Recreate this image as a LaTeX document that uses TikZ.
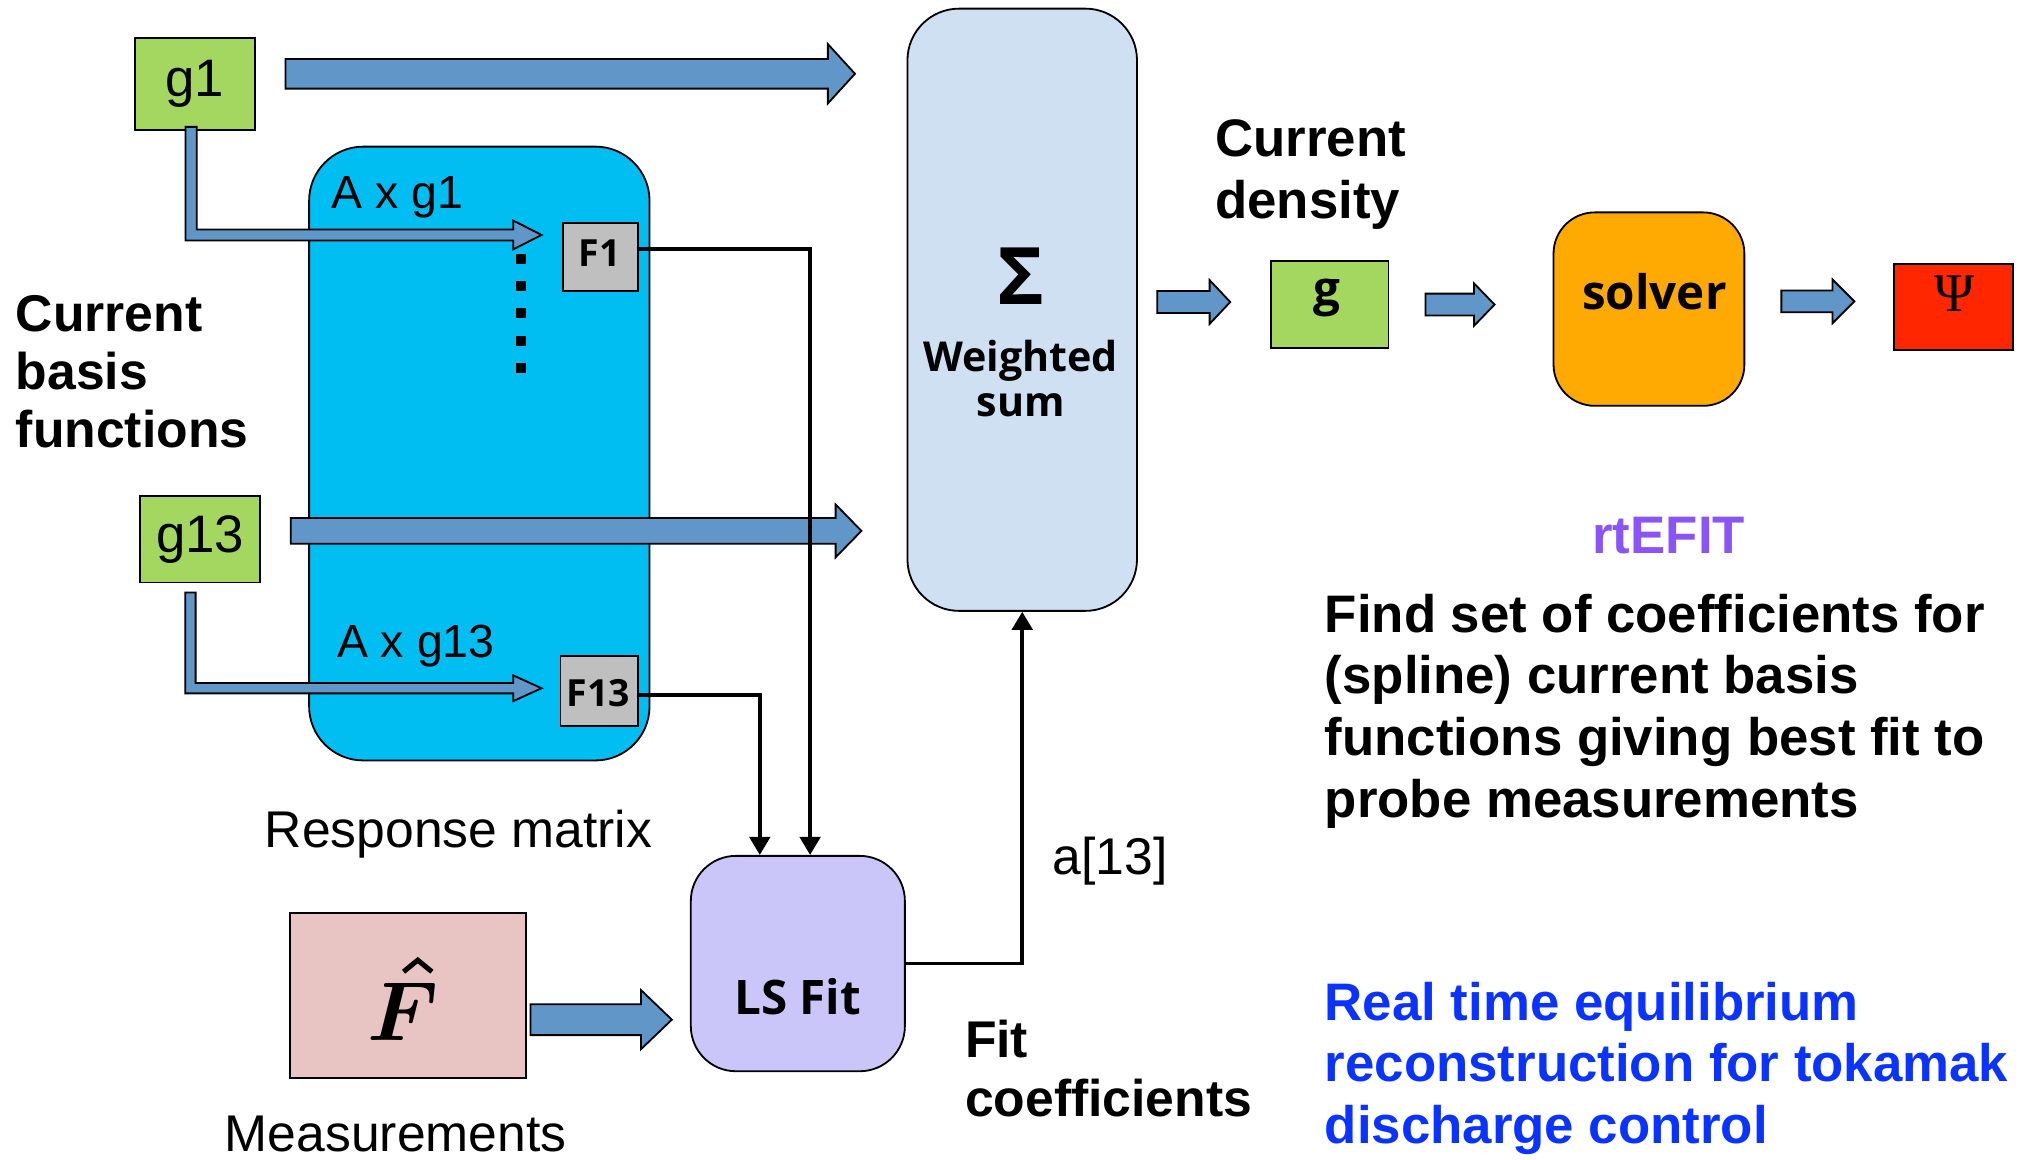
\RequirePackage{fix-cm}
\documentclass[tikz,border=0pt]{standalone}
\usepackage{amsmath,bm}
\usepackage{fontspec}
\setmainfont{Liberation Sans}
\newfontfamily\opensans{Open Sans}
\newfontfamily\timesf{Liberation Serif}
\usetikzlibrary{arrows.meta,calc}

\definecolor{gfill}{HTML}{A3D760}
\definecolor{arrowblue}{HTML}{6196C9}
\definecolor{respcyan}{HTML}{00BEF2}
\definecolor{fgray}{HTML}{BFBFBF}
\definecolor{sumblue}{HTML}{CFE0F2}
\definecolor{solvorange}{HTML}{FFA903}
\definecolor{psired}{HTML}{FF2600}
\definecolor{lslav}{HTML}{CAC6FA}
\definecolor{measpink}{HTML}{E8C4C2}
\definecolor{efitpurple}{HTML}{8A55F6}
\definecolor{textblue}{HTML}{0A33FF}

% one drawing unit
\def\pxl{0.02cm}

% horizontal block arrow: start, tip, shaft half, head half, head length
\newcommand\harrow[5]{%
  \filldraw[bluearrow] let \p1=#1, \p2=#2 in
    (\x1,\y1+#3*\pxl) -- (\x2-#5*\pxl,\y1+#3*\pxl) -- (\x2-#5*\pxl,\y1+#4*\pxl)
    -- (\x2,\y1) -- (\x2-#5*\pxl,\y1-#4*\pxl) -- (\x2-#5*\pxl,\y1-#3*\pxl)
    -- (\x1,\y1-#3*\pxl) -- cycle;}
% bent block arrow: down from the start, then right to the tip
\newcommand\larrow[5]{%
  \filldraw[bluearrow] let \p1=#1, \p2=#2 in
    (\x1-#3*\pxl,\y1) -- (\x1+#3*\pxl,\y1) -- (\x1+#3*\pxl,\y2+#3*\pxl)
    -- (\x2-#5*\pxl,\y2+#3*\pxl) -- (\x2-#5*\pxl,\y2+#4*\pxl) -- (\x2,\y2)
    -- (\x2-#5*\pxl,\y2-#4*\pxl) -- (\x2-#5*\pxl,\y2-#3*\pxl)
    -- (\x1-#3*\pxl,\y2-#3*\pxl) -- cycle;}

\begin{document}
\begin{tikzpicture}[x=0.02cm,y=-0.02cm,
  box/.style={draw=black,line width=0.8pt,inner sep=0pt,anchor=north west},
  bluearrow/.style={fill=arrowblue,draw=black,line width=0.8pt,line join=miter},
  conn/.style={line width=1.7pt,-{Triangle[length=8pt,width=9pt]}},
  txt/.style={inner sep=0pt,anchor=base west,font=\fontsize{22.8}{25.6}\selectfont},
  bigtxt/.style={inner sep=0pt,anchor=base west,align=left,font=\fontsize{23.3}{27.3}\selectfont\bfseries},
  osb/.style={inner sep=0pt,anchor=base,font=\opensans\bfseries\fontsize{21}{24}\selectfont}]
\useasboundingbox (0,0) rectangle (1568,899);

% response matrix panel
\node[box,fill=respcyan,rounded corners=42*\pxl,minimum width=264*\pxl,minimum height=476*\pxl] (resp) at (239,113) {};

% basis function boxes
\node[box,fill=gfill,minimum width=93*\pxl,minimum height=71*\pxl,font=\fontsize{23.3}{26}\selectfont] (g1) at (104,29) {g1};
\node[box,fill=gfill,minimum width=93*\pxl,minimum height=67*\pxl,font=\fontsize{23.3}{26}\selectfont] (g13) at (108,384) {g13};

% responses
\node[box,fill=fgray,minimum width=58*\pxl,minimum height=53*\pxl] (F1) at (436,172) {};
\node[box,fill=fgray,minimum width=60*\pxl,minimum height=54*\pxl] (F13) at (434,508) {};
\node[osb,font=\opensans\bfseries\fontsize{16.5}{18}\selectfont] (F1t) at (465,207) {F1};
\node[osb,font=\opensans\bfseries\fontsize{16.5}{18}\selectfont] (F13t) at (464,548) {F13};

% weighted sum (multi-line nodes sit on the baseline of their last line)
\node[box,fill=sumblue,rounded corners=40*\pxl,minimum width=178*\pxl,minimum height=467*\pxl] (wsum) at (703,6) {};
\node[inner sep=0pt,font=\opensans\bfseries\fontsize{35}{36}\selectfont] (sigma) at (792,214) {Σ};
\node[osb,align=center,font=\opensans\bfseries\fontsize{18.2}{19.9}\selectfont] (wst) at (791.5,323) {Weighted\\sum};

% current density, solver, flux
\node[box,fill=gfill,minimum width=91*\pxl,minimum height=67*\pxl] (g) at (985,202) {};
\node[osb] (gt) at (1029,237) {g};
\node[box,fill=solvorange,rounded corners=32*\pxl,minimum width=148*\pxl,minimum height=150*\pxl] (solver) at (1204,164) {};
\node[osb] (solvt) at (1283,240) {solver};
\node[box,fill=psired,minimum width=92*\pxl,minimum height=67*\pxl] (psi) at (1468,204) {};
\node[inner sep=0pt,font=\timesf\fontsize{24}{26}\selectfont] (psit) at (1516,227.5) {Ψ};

% fit and measurements
\node[box,fill=lslav,rounded corners=35*\pxl,minimum width=166*\pxl,minimum height=167*\pxl] (lsfit) at (535,663) {};
\node[osb] (lst) at (618.5,787) {LS Fit};
\node[box,fill=measpink,minimum width=183*\pxl,minimum height=128*\pxl] (meas) at (224,707) {};
\node[inner sep=0pt,anchor=base west,font=\fontsize{37}{40}\selectfont] (fhat) at (285,806.5) {$\boldsymbol{F}$};
% the hat over F
\draw[line width=2.2pt,line join=miter,line cap=butt]
  ($(fhat.north)+(0,-8)$) -- ++(11,-9) -- ++(11,9);

% block arrows
\harrow{($(g1.east)+(23,-8)$)}{($(wsum.west)+(-40,0)$)}{11.5}{23}{21}
\harrow{($(g13.east)+(23,-6.5)$)}{($(wsum.west)+(-35,0)$)}{10}{20.5}{20}
\harrow{($(meas.east)+(3,19)$)}{($(lsfit.west)+(-14,0)$)}{12}{23}{24}
\harrow{($(wsum.east)+(15,-6)$)}{($(g.west)+(-31,0)$)}{8.5}{17}{16}
\harrow{($(g.east)+(28,0)$)}{($(solver.west)+(-45,0)$)}{8.5}{16.5}{16}
\harrow{($(solver.east)+(28,-6)$)}{($(psi.west)+(-30,0)$)}{8.5}{17}{17}
\larrow{($(g1.south)+(-3,-3)$)}{($(F1.west)+(-16,-17)$)}{4.3}{11.2}{22}
\larrow{($(g13.south)+(-7.5,7)$)}{($(F13.west)+(-14,-2)$)}{4}{10}{22}

% further basis functions
\draw[line width=4.5pt,dash pattern=on 4.4pt off 7.6pt] (404,197) -- (404,292);

% connectors
\draw[conn] ($(F1.east)+(0,-6)$) -| ($(lsfit.north)+(9.5,0)$);
\draw[conn] ($(F13.east)+(0,3)$) -| ($(lsfit.north)+(-29.5,0)$);
\draw[conn] (lsfit.east) -| (wsum.south);

% labels
\node[txt,font=\fontsize{20.5}{23}\selectfont] (ag1) at (257,162) {A x g1};
\node[txt,font=\fontsize{20.5}{23}\selectfont] (ag13) at (261,510) {A x g13};
\node[txt] (resplbl) at (205,657) {Response matrix};
\node[txt] (measlbl) at (174,893) {Measurements};
\node[txt] (alab) at (816,678) {a[13]};
\node[bigtxt,font=\fontsize{22.8}{25.6}\selectfont\bfseries] (cbf) at (12,347) {Current\\basis\\functions};
\node[bigtxt,font=\fontsize{22.8}{26.2}\selectfont\bfseries] (fitc) at (748,866) {Fit\\coefficients};
\node[bigtxt] (curd) at (942,169.5) {Current\\density};
\node[bigtxt,anchor=base,text=efitpurple] (efit) at (1294,429) {rtEFIT};
\node[bigtxt] (findt) at (1027,634) {Find set of coefficients for\\(spline) current basis\\functions giving best fit to\\probe measurements};
\node[bigtxt,text=textblue] (realt) at (1027,887) {Real time equilibrium\\reconstruction for tokamak\\discharge control};
\end{tikzpicture}
\end{document}
